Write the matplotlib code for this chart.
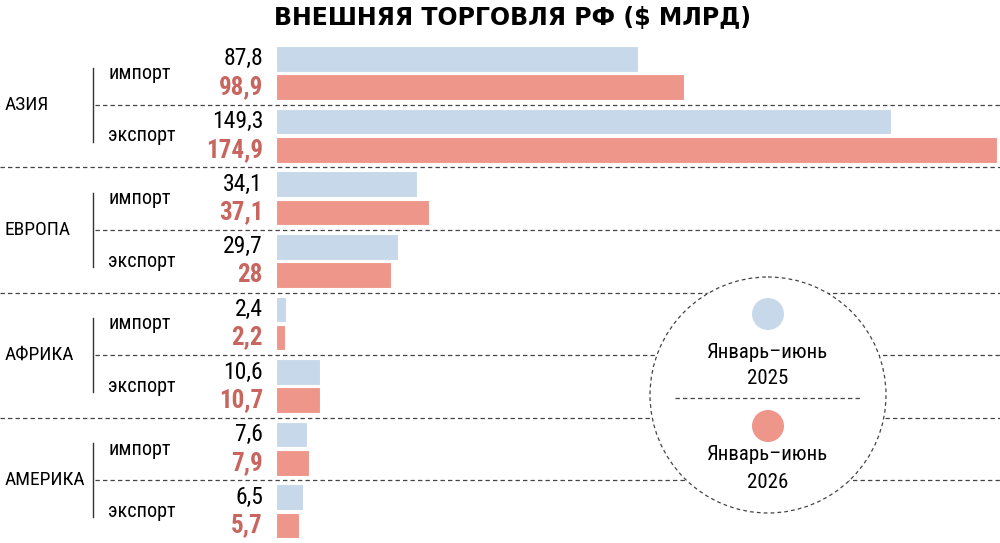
import matplotlib
matplotlib.use("Agg")
import matplotlib.pyplot as plt
from matplotlib.transforms import blended_transform_factory
from matplotlib.patches import Circle

# data, $ bn
regions = ["АЗИЯ", "ЕВРОПА", "АФРИКА", "АМЕРИКА"]
metrics = ["импорт", "экспорт"]
vals_2025 = [87.8, 149.3, 34.1, 29.7, 2.4, 10.6, 7.6, 6.5]
vals_2026 = [98.9, 174.9, 37.1, 28.0, 2.2, 10.7, 7.9, 5.7]
labels_2025 = ["87,8", "149,3", "34,1", "29,7", "2,4", "10,6", "7,6", "6,5"]
labels_2026 = ["98,9", "174,9", "37,1", "28", "2,2", "10,7", "7,9", "5,7"]

BLUE = "#c6d8ea"
RED = "#ef968a"
RED_TXT = "#c8655e"
NARROW = ["Roboto Condensed", "Liberation Sans Narrow", "Roboto", "DejaVu Sans"]

W, H = 1000, 543
fig = plt.figure(figsize=(W / 100, H / 100), dpi=100)

# bar axes: x from 276px to 997px, rows from y=42px to bottom
ax = fig.add_axes([276 / W, 0, (997 - 276) / W, (H - 42) / H])
ax.set_xlim(0, max(vals_2026))
ax.set_ylim(len(vals_2025), 0)
ax.axis("off")

# overlay axes in pixel coordinates
ov = fig.add_axes([0, 0, 1, 1])
ov.set_xlim(0, W)
ov.set_ylim(H, 0)
ov.axis("off")

tr = blended_transform_factory(ov.transData, ax.transData)

n = len(vals_2025)
rows = list(range(n))
ax.barh([r + 0.27 for r in rows], vals_2025, height=0.41, color=BLUE, edgecolor="white", linewidth=0.8)
ax.barh([r + 0.72 for r in rows], vals_2026, height=0.41, color=RED, edgecolor="white", linewidth=0.8)

for r in rows:
    ax.text(263, r + 0.27, labels_2025[r], transform=tr, ha="right", va="center",
            fontsize=17, family=NARROW, color="black")
    ax.text(263, r + 0.72, labels_2026[r], transform=tr, ha="right", va="center",
            fontsize=18, family=NARROW, color=RED_TXT, fontweight="bold")
    ax.text(108, r + 0.5, metrics[r % 2], transform=tr, ha="left", va="center",
            fontsize=14.5, family=NARROW)

# separators
for r in range(1, n):
    x0 = 0 if r % 2 == 0 else 95
    ax.plot([x0, W], [r, r], transform=tr, clip_on=False, color="#444444",
            linewidth=0.9, linestyle=(0, (3.5, 2.5)))

for g, name in enumerate(regions):
    yc = 2 * g + 1
    ax.text(5, yc, name, transform=tr, ha="left", va="center", fontsize=14, family=NARROW)
    ax.plot([93, 93], [yc - 0.59, yc + 0.59], transform=tr, clip_on=False,
            color="#333333", linewidth=1.0)

# title
ov.text(513, 18, "ВНЕШНЯЯ ТОРГОВЛЯ РФ ($ МЛРД)", ha="center", va="center",
        fontsize=17, fontweight="bold", family=["DejaVu Sans"])

# legend circle
cx, cy = 768, 395
ov.add_patch(Circle((cx, cy), 118, facecolor="white", edgecolor="#444444",
                    linewidth=0.9, linestyle=(0, (3, 2.5)), zorder=5))
ov.add_patch(Circle((cx, 314), 16, facecolor=BLUE, edgecolor="none", zorder=6))
ov.add_patch(Circle((cx, 426), 16, facecolor=RED, edgecolor="none", zorder=6))
ov.plot([675, 862], [398, 398], color="#444444", linewidth=0.9,
        linestyle=(0, (3.5, 2.5)), zorder=6)
ov.text(cx, 352, "Январь–июнь", ha="center", va="center", fontsize=15, family=NARROW, zorder=7)
ov.text(cx, 379, "2025", ha="center", va="center", fontsize=15, family=NARROW, zorder=7)
ov.text(cx, 455, "Январь–июнь", ha="center", va="center", fontsize=15, family=NARROW, zorder=7)
ov.text(cx, 482, "2026", ha="center", va="center", fontsize=15, family=NARROW, zorder=7)

fig.savefig("out.png", dpi=100)
